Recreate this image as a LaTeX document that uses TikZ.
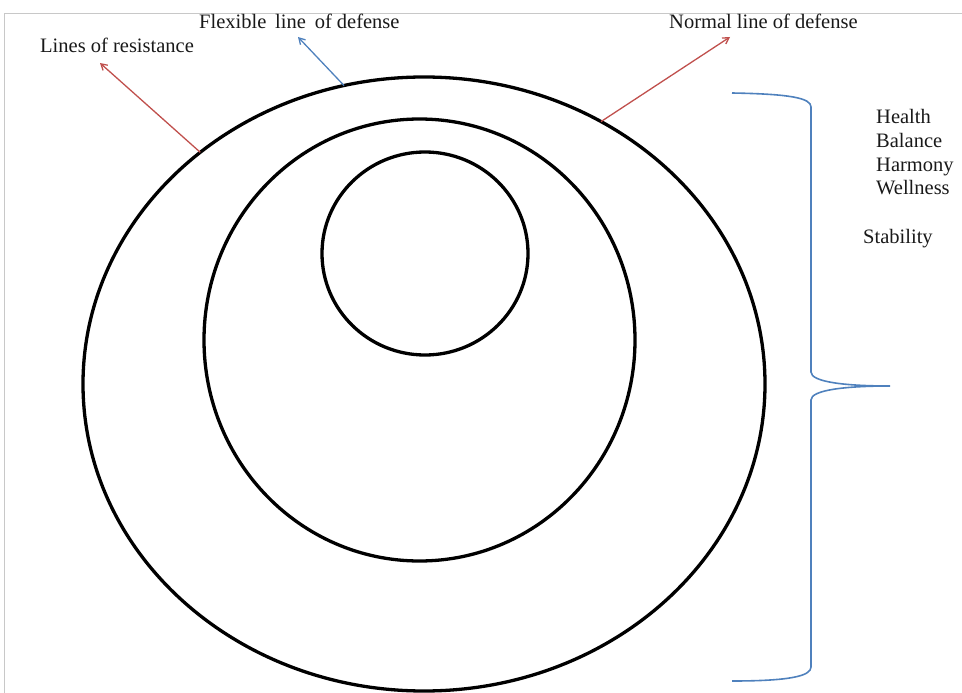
\documentclass[tikz,border=0pt]{standalone}
\usepackage{fontspec}
\setmainfont{Liberation Serif}
\usetikzlibrary{shapes.geometric,arrows.meta}
\definecolor{redarrow}{HTML}{C0504D}
\definecolor{bluearrow}{HTML}{4F81BD}
\definecolor{frame}{HTML}{C8C8C8}
\begin{document}
\begin{tikzpicture}[x=1pt,y=-1pt,
  ring/.style={ellipse,draw=black,line width=3.3pt,inner sep=0pt,outer sep=0pt},
  lbl/.style={anchor=base west,inner sep=0pt,text=black!90,font=\fontsize{20.5}{24}\selectfont},
  pointer/.style={line width=1.3pt,-{Straight Barb[length=6pt,width=7pt]}},
  bracestyle/.style={draw=bluearrow,line width=1.6pt}]
\useasboundingbox (0,0) rectangle (962,693);
\draw[frame,line width=0.8pt] (4,693) -- (4,13) -- (962,13);
% rings
\node[ring,minimum width=682pt,minimum height=614pt] (outer) at (424,384) {};
\node[ring,minimum width=431pt,minimum height=442pt] (middle) at (419.5,340) {};
\node[ring,minimum width=206pt,minimum height=203pt] (inner) at (425,253.5) {};
% labels
\node[lbl] (lres) at (40,53) {Lines of resistance};
\node[lbl] (lflex) at (199,29) {Flexible\hspace{0.18em} line\hspace{0.18em} of defense};
\node[lbl] (lnorm) at (669,29) {Normal line of defense};
\node[lbl] (health) at (876,123) {Health};
\node[lbl] (balance) at (876,147) {Balance};
\node[lbl] (harmony) at (876,171) {Harmony};
\node[lbl] (wellness) at (876,194) {Wellness};
\node[lbl] (stability) at (863,243) {Stability};
% arrow heads
\coordinate (tres) at (100,63);
\coordinate (tflex) at (298,37);
\coordinate (tnorm) at (730,37);
\draw[pointer,redarrow] (outer.134.4) -- (tres);
\draw[pointer,bluearrow] (outer.105.7) -- (tflex);
\draw[pointer,redarrow] (outer.56.3) -- (tnorm);
% brace
\coordinate (btop) at (732,93);
\coordinate (btip) at (890,386);
\coordinate (bbot) at (732,681);
\draw[bracestyle] (btop) .. controls (790,94) and (811,98) .. (811,107)
  -- (811,372) .. controls (811,382) and (845,386) .. (btip)
  .. controls (845,386) and (811,390) .. (811,400)
  -- (811,667) .. controls (811,676) and (790,681) .. (bbot);
\end{tikzpicture}
\end{document}
